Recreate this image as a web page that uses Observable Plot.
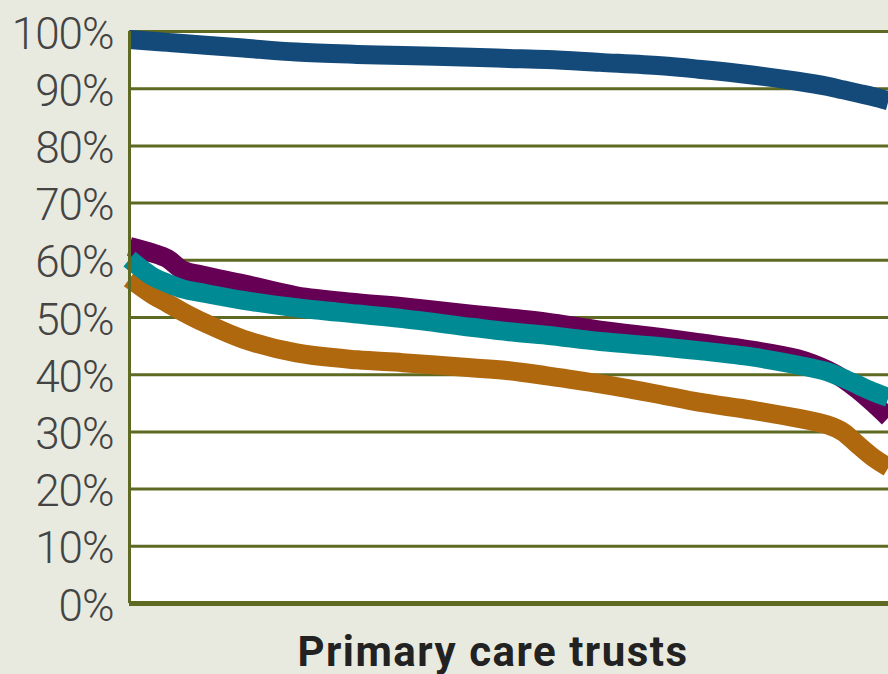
<!DOCTYPE html>
<html>
<head>
<meta charset="utf-8">
<script src="https://cdn.jsdelivr.net/npm/d3@7"></script>
<script src="https://cdn.jsdelivr.net/npm/@observablehq/plot@0.6"></script>
<style>
  html, body { margin: 0; padding: 0; background: #e9eadf; }
  #chart svg { display: block; }
</style>
</head>
<body>
<div id="chart"></div>
<script>
// Position of each trust along the ranked x axis (percent of trusts)
const trustPct   = [0, 3, 5, 7, 10, 15, 22, 30, 36, 45, 50, 55, 62, 70, 75, 82, 88, 92, 94, 96, 98, 100];
const seriesBlue   = [98.6, 98.3, 98.1, 97.9, 97.6, 97.1, 96.4, 96.0, 95.8, 95.5, 95.3, 95.1, 94.6, 94.0, 93.4, 92.4, 91.3, 90.4, 89.8, 89.2, 88.6, 87.9];
const seriesPurple = [62.4, 61.3, 60.3, 58.3, 57.3, 55.9, 53.8, 52.6, 51.9, 50.6, 49.9, 49.2, 47.8, 46.5, 45.6, 44.3, 42.8, 40.8, 39.3, 37.3, 35.0, 32.5];
const seriesTeal   = [60.2, 57.2, 56.0, 55.0, 54.2, 53.0, 51.7, 50.6, 49.8, 48.3, 47.5, 46.9, 45.8, 44.9, 44.2, 43.1, 41.7, 40.5, 39.4, 38.2, 37.0, 36.0];
const seriesOrange = [56.8, 54.0, 52.5, 51.0, 49.0, 46.2, 43.8, 42.6, 42.1, 41.2, 40.7, 39.8, 38.4, 36.5, 35.2, 33.8, 32.4, 31.2, 30.0, 27.7, 25.5, 23.8];
const yTicks = [0, 10, 20, 30, 40, 50, 60, 70, 80, 90, 100];
const xLabel = "Primary care trusts";

const colors = {blue: "#134a7a", purple: "#660055", teal: "#008b94", orange: "#b0680f"};
const grid = "#5e6a22";

const mk = (vals, key) => trustPct.map((x, i) => ({x, y: vals[i], s: key}));
const order = [["blue", seriesBlue], ["orange", seriesOrange], ["purple", seriesPurple], ["teal", seriesTeal]];

const chart = Plot.plot({
  width: 888,
  height: 674,
  marginTop: 31,
  marginBottom: 71,
  marginLeft: 129,
  marginRight: 0,
  style: {background: "#e9eadf", fontFamily: "Roboto, sans-serif", overflow: "hidden"},
  x: {domain: [0, 100], axis: null},
  y: {domain: [0, 100], axis: null},
  marks: [
    Plot.frame({fill: "white", stroke: "none"}),
    Plot.ruleY(yTicks.filter(d => d > 0), {stroke: grid, strokeWidth: 3}),
    ...order.map(([k, v]) => Plot.line(mk(v, k), {
      x: "x", y: "y", stroke: colors[k], strokeWidth: 19, curve: "catmull-rom",
      strokeLinecap: "butt", strokeLinejoin: "round"
    })),
    Plot.ruleX([0], {stroke: grid, strokeWidth: 3}),
    Plot.ruleY([0], {stroke: grid, strokeWidth: 5}),
    Plot.text(yTicks, {
      x: 0, y: d => d, text: d => d + "%", textAnchor: "end", dx: -16, dy: 3,
      fontSize: 44, fill: "#444", fontWeight: 300, className: "ylab"
    }),
    Plot.text([xLabel], {
      frameAnchor: "bottom", dy: 62, dx: -16, text: d => d, fontSize: 42, fontWeight: 700, fill: "#222", className: "xlab"
    })
  ]
});
d3.select(chart).selectAll(".xlab text").attr("letter-spacing", "1.5px");
d3.select(chart).selectAll(".ylab text").attr("letter-spacing", "-1px");
document.getElementById("chart").appendChild(chart);
</script>
</body>
</html>
